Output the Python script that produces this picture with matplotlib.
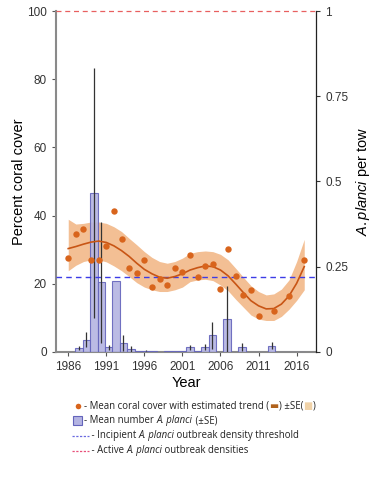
import matplotlib
matplotlib.use("Agg")
import matplotlib.pyplot as plt
from matplotlib.offsetbox import TextArea, HPacker, VPacker, DrawingArea, AnchoredOffsetbox
from matplotlib.lines import Line2D
from matplotlib.patches import Rectangle

plt.rcParams['font.family'] = ['Liberation Sans', 'DejaVu Sans']
plt.rcParams['mathtext.fontset'] = 'custom'
plt.rcParams['mathtext.it'] = 'Liberation Sans:italic'
plt.rcParams['mathtext.rm'] = 'Liberation Sans'

# coral cover survey means (%)
cover_years = [1986, 1987, 1988, 1989, 1990, 1991, 1992, 1993, 1994, 1995, 1996, 1997,
               1998, 1999, 2000, 2001, 2002, 2003, 2004, 2005, 2006, 2007, 2008, 2009,
               2010, 2011, 2013, 2015, 2017]
cover = [27.6, 34.5, 35.9, 27.0, 27.0, 31.1, 41.3, 33.0, 24.6, 23.1, 27.0, 19.0,
         21.3, 19.7, 24.7, 23.5, 28.4, 22.0, 25.3, 25.9, 18.4, 30.1, 22.4, 16.6,
         18.0, 10.6, 12.1, 16.4, 26.9]

# estimated trend with SE band
trend_years = list(range(1986, 2018))
trend = [30.3, 30.9, 31.6, 32.2, 32.5, 32.1, 31.1, 29.7, 28.0, 26.0, 24.2, 22.9,
         21.9, 21.6, 22.1, 22.9, 24.0, 24.7, 25.2, 25.0, 24.0, 22.3, 19.9, 17.4,
         15.0, 13.5, 12.6, 12.7, 14.0, 16.4, 20.1, 25.0]
trend_hi = [38.9, 37.5, 37.7, 38.1, 38.1, 37.7, 36.7, 35.3, 33.3, 31.4, 29.4, 27.7,
            26.5, 26.0, 26.5, 27.5, 28.9, 29.4, 29.6, 29.4, 28.6, 27.0, 24.5, 21.9,
            19.4, 17.7, 16.7, 17.0, 18.4, 21.1, 26.5, 33.0]
trend_lo = [23.8, 25.4, 26.5, 27.0, 27.0, 26.4, 25.2, 23.8, 22.1, 20.3, 19.0, 18.2,
            17.7, 17.7, 18.2, 19.0, 20.6, 21.1, 21.3, 20.9, 19.6, 17.9, 15.4, 13.1,
            10.8, 9.6, 9.2, 9.2, 10.4, 12.5, 15.1, 18.2]

# mean A. planci per tow (+/- SE)
cots_years = list(range(1986, 2018))
cots = [0.0, 0.011, 0.035, 0.465, 0.204, 0.013, 0.209, 0.025, 0.008, 0.002, 0.003, 0.001,
        0.0, 0.002, 0.002, 0.002, 0.013, 0.003, 0.014, 0.048, 0.0, 0.096, 0.0, 0.014,
        0.0, 0.0, 0.0, 0.018, 0.0, 0.0, 0.0, 0.0]
cots_se = [0.0, 0.007, 0.022, 0.367, 0.178, 0.007, 0.0, 0.023, 0.010, 0.0, 0.002, 0.0,
           0.0, 0.001, 0.0, 0.001, 0.007, 0.0, 0.008, 0.041, 0.0, 0.096, 0.0, 0.013,
           0.0, 0.0, 0.0, 0.010, 0.0, 0.0, 0.0, 0.0]

incipient = 0.22
active = 1.0

orange = '#d8641c'
band_col = '#f2b888'
bar_face = '#b4b4e2'
bar_edge = '#6464bc'

fig = plt.figure(figsize=(3.84, 4.8), dpi=100)
rect = [0.146, 0.267, 0.677, 0.71]

ax = fig.add_axes(rect)
ax.set_xlim(1984.4, 2018.55)
ax.set_ylim(0, 100)
ax.fill_between(trend_years, trend_lo, trend_hi, color=band_col, lw=0, alpha=0.9)

axb = fig.add_axes(rect, facecolor='none')
axb.set_xlim(1983.9, 2019.0)
axb.set_ylim(0, 1)
axb.bar(cots_years, cots, width=1.0, color=bar_face, edgecolor=bar_edge, linewidth=0.8, alpha=0.9)
axb.errorbar(cots_years, cots, yerr=cots_se, fmt='none', ecolor='#333333', elinewidth=0.9, capsize=0)
axb.axhline(incipient, color='#3c3ce6', lw=1.0, dashes=(4, 3))
axb.axhline(active, color='#e86060', lw=0.9, dashes=(4, 3), clip_on=False, zorder=5)

axp = fig.add_axes(rect, facecolor='none', sharex=ax, sharey=ax)
axp.plot(trend_years, trend, color='#c85515', lw=1.2)
axp.plot(cover_years, cover, 'o', color=orange, ms=4.6, mec='none')
axp.axis('off')

# left / bottom axis
ax.set_xticks([1986, 1991, 1996, 2001, 2006, 2011, 2016])
ax.set_yticks([0, 20, 40, 60, 80, 100])
ax.tick_params(direction='out', length=3, width=0.8, colors='#555555', labelcolor='#333333', labelsize=8.5)
for s in ['top', 'right']:
    ax.spines[s].set_visible(False)
for s in ['left', 'bottom']:
    ax.spines[s].set_color('#8a8a8a')
    ax.spines[s].set_linewidth(1.5)
ax.set_xlabel('Year', fontsize=10.5, labelpad=2)
ax.set_ylabel('Percent coral cover', fontsize=10.5, labelpad=1)

# right axis
for s in ['top', 'left', 'bottom']:
    axb.spines[s].set_visible(False)
axb.spines['right'].set_color('#222222')
axb.spines['right'].set_linewidth(0.9)
axb.xaxis.set_visible(False)
axb.yaxis.tick_right()
axb.yaxis.set_label_position('right')
axb.set_yticks([0, 0.25, 0.5, 0.75, 1])
axb.set_yticklabels(['0', '0.25', '0.5', '0.75', '1'])
axb.tick_params(direction='out', length=3, width=0.8, colors='#333333', labelsize=8.5)
axb.set_ylabel(r'$\mathit{A.planci}$ per tow', fontsize=10.5, labelpad=4)

# legend rows
lf = dict(fontsize=6.9, family=['Open Sans', 'DejaVu Sans'], color='#222222')
lfi = dict(lf, style='italic')


def sym_dot():
    da = DrawingArea(9, 8, 0, 0)
    da.add_artist(Line2D([4], [4], marker='o', ms=4, color=orange, mec='none'))
    return da


def sym_sq():
    da = DrawingArea(9, 8, 0, 0)
    da.add_artist(Rectangle((0.5, 0.5), 7, 7, fc=bar_face, ec=bar_edge, lw=0.8))
    return da


def sym_dash(c):
    da = DrawingArea(12, 8, 0, 0)
    da.add_artist(Line2D([0, 12], [4, 4], color=c, lw=0.9, dashes=(1.8, 1.2)))
    return da


rows = [
    [sym_dot(), TextArea('- Mean coral cover with estimated trend (', textprops=lf),
     TextArea('\u25ac', textprops=dict(lf, color='#b0621c', family=['DejaVu Sans'])),
     TextArea(') \u00b1SE(', textprops=lf),
     TextArea('\u25a0', textprops=dict(lf, color='#f0d2a8', family=['DejaVu Sans'])),
     TextArea(')', textprops=lf)],
    [sym_sq(), TextArea('- Mean number ', textprops=lf), TextArea('A. planci', textprops=lfi),
     TextArea(' (\u00b1SE)', textprops=lf)],
    [sym_dash('#6a6ae0'), TextArea(' - Incipient ', textprops=lf), TextArea('A. planci', textprops=lfi),
     TextArea(' outbreak density threshold', textprops=lf)],
    [sym_dash('#e8507a'), TextArea(' - Active ', textprops=lf), TextArea('A. planci', textprops=lfi),
     TextArea(' outbreak densities', textprops=lf)],
]
box = VPacker(children=[HPacker(children=r, align='center', pad=0, sep=0) for r in rows],
              align='left', pad=0, sep=2.8)
anch = AnchoredOffsetbox(loc='upper left', child=box, pad=0, frameon=False,
                         bbox_to_anchor=(72 / 384, 1 - 400 / 480), bbox_transform=fig.transFigure,
                         borderpad=0)
fig.add_artist(anch)

fig.savefig('out.png', dpi=100)
